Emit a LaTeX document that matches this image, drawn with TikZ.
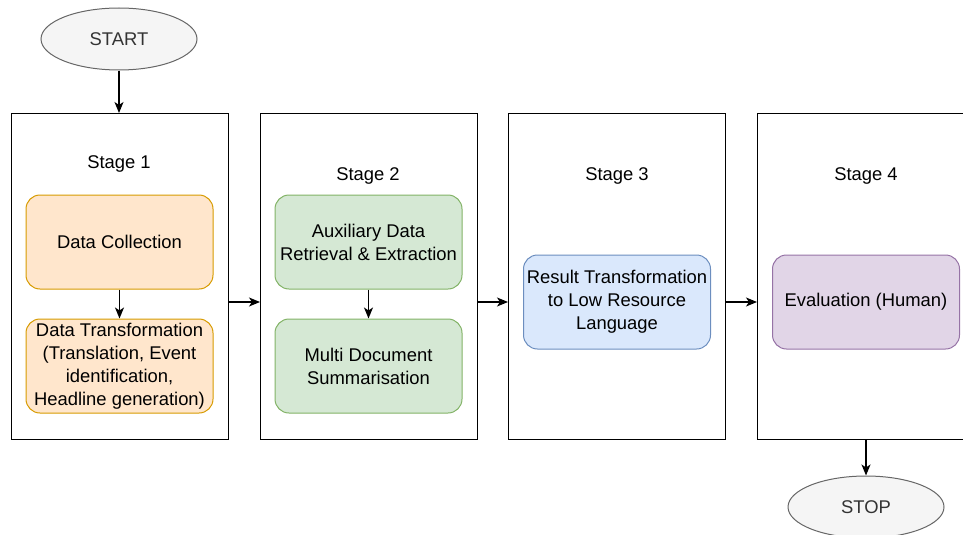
\documentclass[tikz,border=0pt]{standalone}
\usepackage{fontspec}
\setmainfont{Liberation Sans}
\usetikzlibrary{shapes.geometric,arrows.meta}
\definecolor{orfill}{HTML}{FFE6CC}\definecolor{ordraw}{HTML}{D79B00}
\definecolor{grfill}{HTML}{D5E8D4}\definecolor{grdraw}{HTML}{82B366}
\definecolor{blfill}{HTML}{DAE8FC}\definecolor{bldraw}{HTML}{6C8EBF}
\definecolor{pufill}{HTML}{E1D5E7}\definecolor{pudraw}{HTML}{9673A6}
\definecolor{elfill}{HTML}{F5F5F5}\definecolor{eldraw}{HTML}{666666}
\definecolor{eltext}{HTML}{333333}
\begin{document}
\begin{tikzpicture}[x=1pt,y=-1pt,
  every node/.style={font=\fontsize{18.4pt}{23pt}\selectfont, inner sep=0pt},
  stagebox/.style={draw=black, line width=1.3pt, minimum width=217pt, minimum height=326pt, anchor=north west},
  term/.style={ellipse, draw=eldraw, fill=elfill, text=eltext, line width=1pt, minimum width=156pt, minimum height=62pt},
  task/.style={rounded corners=14pt, line width=1pt, minimum width=187pt, minimum height=94pt, align=center},
  orange/.style={task, draw=ordraw, fill=orfill},
  green/.style={task, draw=grdraw, fill=grfill},
  blue/.style={task, draw=bldraw, fill=blfill},
  purple/.style={task, draw=pudraw, fill=pufill},
  arr/.style={-{Stealth[length=11pt,width=9pt,inset=3pt]}, line width=1.4pt}
]
\clip (0,0) rectangle (963,535);
\useasboundingbox (0,0) rectangle (963,535);
\node[term] (start) at (119,39) {START};
\node[stagebox] (s1) at (11,113) {};
\node[stagebox] (s2) at (260,113) {};
\node[stagebox] (s3) at (508,113) {};
\node[stagebox] (s4) at (757,113) {};
\node (l1) at (119,164) {Stage 1};
\node (l2) at (368,176) {Stage 2};
\node (l3) at (617,176) {Stage 3};
\node (l4) at (866,176) {Stage 4};
\node[orange] (dc) at (119.5,242) {Data Collection};
\node[orange] (dt) at (119.5,366) {Data Transformation\\(Translation, Event\\identification,\\Headline generation)};
\node[green] (aux) at (368.5,242) {Auxiliary Data\\Retrieval \& Extraction};
\node[green] (mds) at (368.5,366) {Multi Document\\Summarisation};
\node[blue] (rt) at (617,302) {Result Transformation\\to Low Resource\\Language};
\node[purple] (ev) at (866,302) {Evaluation (Human)};
\node[term] (stop) at (866,507) {STOP};
\draw[arr] (start.south) -- (s1.north -| start.south);
\draw[arr] (dc) -- (dt);
\draw[arr] (aux) -- (mds);
\draw[arr] (s1.east |- rt) -- (s2.west |- rt);
\draw[arr] (s2.east |- rt) -- (s3.west |- rt);
\draw[arr] (s3.east |- rt) -- (s4.west |- rt);
\draw[arr] (s4.south -| stop.north) -- (stop.north);
\end{tikzpicture}
\end{document}
